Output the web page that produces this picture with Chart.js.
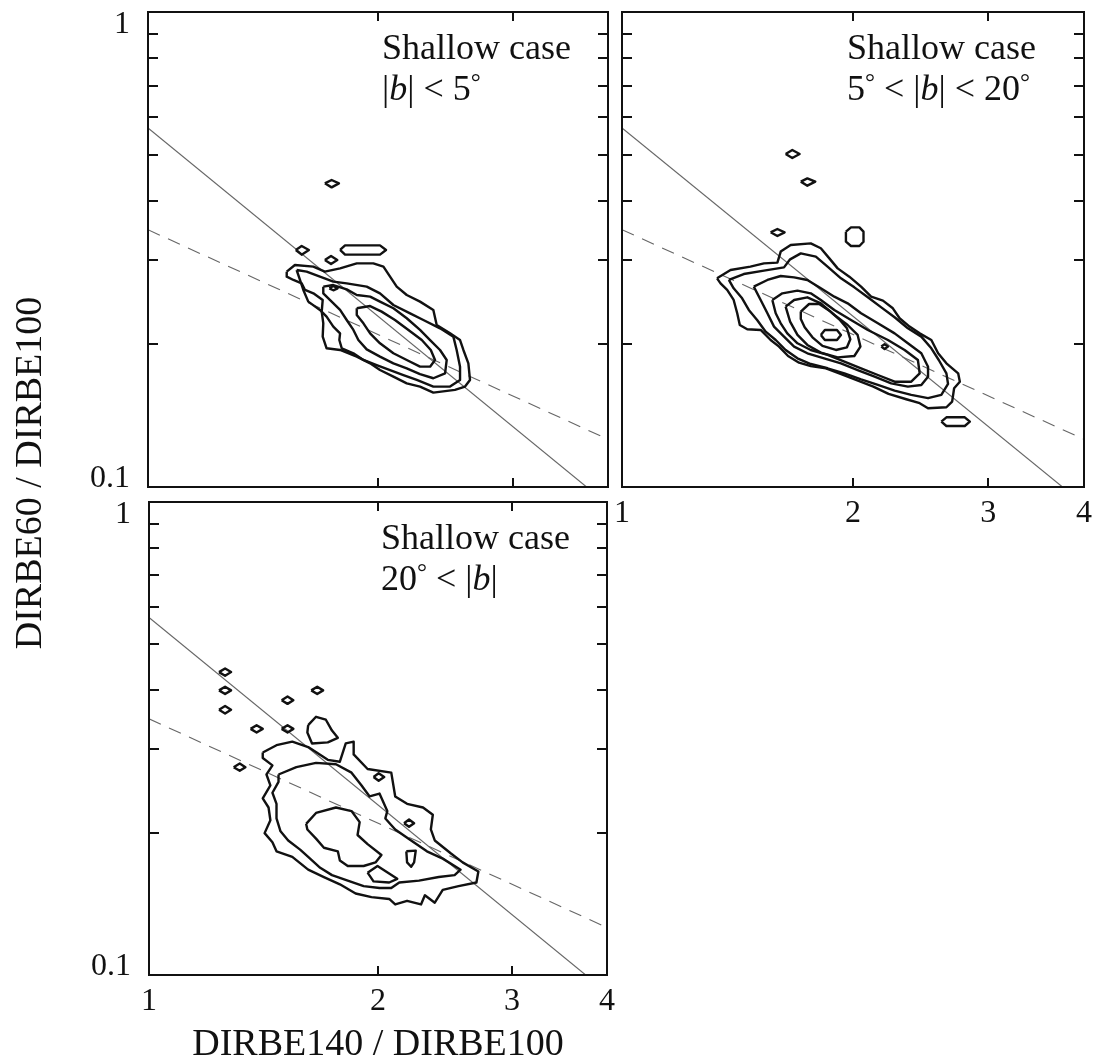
<!DOCTYPE html>
<html>
<head>
<meta charset="utf-8">
<script src="https://cdn.jsdelivr.net/npm/chart.js@4.4.1/dist/chart.umd.min.js"></script>
<style>
  html, body { margin: 0; padding: 0; background: #fff; }
  #wrap { position: relative; width: 1102px; height: 1064px; }
  #wrap canvas { position: absolute; left: 0; top: 0; }
</style>
</head>
<body>
<div id="wrap">
  <canvas id="c1" width="1102" height="1064"></canvas>
  <canvas id="c2" width="1102" height="1064"></canvas>
  <canvas id="c3" width="1102" height="1064"></canvas>
</div>
<script>
// axes
const xRange = [1, 4];
const yRange = [0.1, 1];
const xTickLabels = ['1', '2', '3', '4'];
const xTickValues = [1, 2, 3, 4];
const xMinorTicks = [2, 3];
const yMinorTicks = [0.2, 0.3, 0.4, 0.5, 0.6, 0.7, 0.8, 0.9];
const yTickLabels = ['1', '0.1'];
const yTickValues = [1, 0.1];

// fitted relations, same in every panel
const fitSolid = [[1, 0.57], [3.75, 0.1]];
const fitDashed = [[1, 0.348], [4, 0.126]];

// panel 1: |b| < 5
const p1Contour1 = [[1.519,.2840],[1.557,.2933],[1.646,.2910],[1.704,.2840],[1.784,.2886],[1.876,.2957],[1.972,.2957],[2.033,.2910],[2.074,.2772],[2.116,.2641],[2.181,.2536],[2.270,.2456],[2.363,.2359],[2.387,.2193],[2.485,.2106],[2.561,.2039],[2.587,.1943],[2.626,.1821],[2.639,.1680],[2.600,.1627],[2.522,.1601],[2.363,.1580],[2.270,.1627],[2.181,.1653],[2.095,.1707],[2.012,.1763],[1.953,.1821],[1.876,.1881],[1.784,.1943],[1.713,.1959],[1.693,.2073],[1.696,.2211],[1.688,.2340],[1.693,.2476],[1.646,.2557],[1.605,.2599],[1.589,.2684],[1.550,.2728],[1.519,.2772]];
const p1Contour2 = [[1.565,.2863],[1.613,.2840],[1.679,.2772],[1.748,.2706],[1.820,.2684],[1.933,.2641],[2.012,.2557],[2.095,.2416],[2.203,.2321],[2.293,.2247],[2.411,.2158],[2.510,.2073],[2.535,.1943],[2.561,.1792],[2.561,.1680],[2.485,.1627],[2.363,.1627],[2.248,.1680],[2.159,.1721],[2.074,.1763],[1.992,.1806],[1.914,.1851],[1.857,.1912],[1.793,.1959],[1.780,.2039],[1.784,.2106],[1.748,.2176],[1.713,.2284],[1.679,.2359],[1.621,.2456],[1.597,.2599],[1.581,.2728]];
const p1Contour3 = [[1.696,.2641],[1.748,.2662],[1.820,.2607],[1.876,.2536],[1.953,.2516],[2.012,.2456],[2.095,.2378],[2.181,.2266],[2.270,.2141],[2.340,.2039],[2.411,.1943],[2.460,.1851],[2.448,.1735],[2.363,.1694],[2.270,.1729],[2.181,.1778],[2.095,.1821],[2.012,.1881],[1.933,.1949],[1.885,.2039],[1.857,.2141],[1.820,.2247],[1.784,.2359],[1.730,.2476],[1.696,.2557]];
const p1Contour4 = [[1.876,.2378],[1.953,.2404],[2.022,.2340],[2.105,.2247],[2.192,.2141],[2.282,.2039],[2.345,.1943],[2.375,.1851],[2.340,.1792],[2.270,.1792],[2.181,.1851],[2.095,.1912],[2.012,.2007],[1.953,.2106],[1.914,.2211],[1.876,.2303]];
const p1Islands = [
  [[1.704,.4358],[1.739,.4429],[1.778,.4358],[1.739,.4274]],
  [[1.561,.3155],[1.589,.3216],[1.624,.3155],[1.589,.3084]],
  [[1.704,.3005],[1.736,.3064],[1.769,.3005],[1.736,.2948]],
  [[1.784,.3155],[1.811,.3226],[2.012,.3226],[2.049,.3155],[2.012,.3084],[1.811,.3084]],
  [[1.727,.2620],[1.748,.2649],[1.771,.2620],[1.748,.2595]]
];

// panel 2: 5 < |b| < 20
const p2Contour1 = [[1.330,.2750],[1.385,.2863],[1.470,.2910],[1.531,.2957],[1.594,.2967],[1.610,.3130],[1.659,.3232],[1.762,.3258],[1.816,.3181],[1.863,.3029],[1.910,.2886],[1.978,.2772],[2.049,.2641],[2.112,.2516],[2.188,.2468],[2.254,.2378],[2.300,.2266],[2.370,.2176],[2.443,.2106],[2.530,.2039],[2.582,.1912],[2.647,.1821],[2.742,.1735],[2.756,.1666],[2.709,.1614],[2.693,.1513],[2.647,.1472],[2.505,.1465],[2.443,.1501],[2.347,.1530],[2.225,.1570],[2.126,.1627],[2.018,.1680],[1.919,.1735],[1.844,.1778],[1.762,.1797],[1.701,.1827],[1.646,.1887],[1.602,.1975],[1.562,.2039],[1.516,.2141],[1.456,.2148],[1.424,.2193],[1.413,.2321],[1.398,.2476],[1.371,.2599],[1.344,.2684]];
const p2Contour2 = [[1.378,.2728],[1.441,.2808],[1.531,.2854],[1.626,.2900],[1.656,.3015],[1.710,.3104],[1.789,.3054],[1.853,.2910],[1.929,.2750],[2.008,.2632],[2.091,.2508],[2.177,.2389],[2.266,.2277],[2.358,.2158],[2.455,.2073],[2.530,.1959],[2.587,.1851],[2.647,.1735],[2.660,.1648],[2.607,.1563],[2.505,.1538],[2.382,.1563],[2.266,.1596],[2.155,.1640],[2.049,.1685],[1.949,.1735],[1.853,.1778],[1.762,.1815],[1.693,.1866],[1.634,.1943],[1.586,.2039],[1.539,.2123],[1.500,.2247],[1.463,.2359],[1.434,.2496],[1.398,.2620]];
const p2Contour3 = [[1.485,.2641],[1.547,.2728],[1.610,.2781],[1.676,.2763],[1.744,.2728],[1.816,.2620],[1.891,.2516],[1.968,.2436],[2.049,.2321],[2.155,.2211],[2.266,.2106],[2.358,.2007],[2.455,.1912],[2.505,.1792],[2.505,.1707],[2.455,.1640],[2.358,.1627],[2.243,.1653],[2.134,.1707],[2.028,.1763],[1.929,.1821],[1.834,.1866],[1.744,.1912],[1.676,.1975],[1.626,.2073],[1.578,.2176],[1.547,.2321],[1.516,.2476]];
const p2Contour4 = [[1.570,.2476],[1.618,.2557],[1.693,.2591],[1.762,.2557],[1.816,.2476],[1.891,.2359],[1.988,.2247],[2.091,.2141],[2.221,.2039],[2.335,.1943],[2.430,.1851],[2.443,.1735],[2.382,.1666],[2.266,.1666],[2.155,.1721],[2.049,.1778],[1.949,.1836],[1.853,.1897],[1.762,.1943],[1.693,.2007],[1.642,.2106],[1.610,.2211],[1.586,.2321]];
const p2Contour5 = [[1.634,.2397],[1.676,.2476],[1.744,.2508],[1.816,.2436],[1.891,.2303],[1.968,.2193],[2.028,.2090],[2.045,.1975],[2.008,.1887],[1.910,.1875],[1.816,.1918],[1.744,.1991],[1.693,.2090],[1.656,.2229]];
const p2Contour6 = [[1.710,.2340],[1.753,.2428],[1.807,.2428],[1.863,.2351],[1.919,.2255],[1.964,.2158],[1.984,.2046],[1.964,.1968],[1.900,.1943],[1.825,.1982],[1.771,.2066],[1.730,.2169],[1.710,.2258]];
const p2Islands = [
  [[1.816,.2090],[1.838,.2141],[1.906,.2141],[1.929,.2090],[1.906,.2039],[1.838,.2039]],
  [[2.177,.1975],[2.199,.1997],[2.221,.1975],[2.199,.1953]],
  [[2.607,.1373],[2.647,.1402],[2.797,.1402],[2.840,.1373],[2.797,.1344],[2.647,.1344]],
  [[1.958,.3448],[1.988,.3521],[2.039,.3521],[2.064,.3448],[2.064,.3284],[2.039,.3216],[1.988,.3216],[1.958,.3284]],
  [[1.562,.3437],[1.594,.3493],[1.629,.3437],[1.594,.3376]],
  [[1.634,.5025],[1.667,.5123],[1.704,.5025],[1.667,.4928]],
  [[1.710,.4394],[1.744,.4465],[1.786,.4394],[1.744,.4309]]
];

// panel 3: 20 < |b|
const p3Contour1 = [[1.411,.2954],[1.471,.3061],[1.543,.3114],[1.619,.3033],[1.718,.2850],[1.782,.2824],[1.814,.3087],[1.858,.3114],[1.858,.2927],[1.938,.2726],[2.082,.2678],[2.107,.2385],[2.184,.2301],[2.292,.2260],[2.361,.2182],[2.347,.2031],[2.375,.1925],[2.492,.1809],[2.584,.1730],[2.710,.1655],[2.694,.1569],[2.552,.1541],[2.433,.1514],[2.375,.1422],[2.305,.1474],[2.278,.1410],[2.184,.1435],[2.107,.1410],[2.069,.1448],[1.961,.1461],[1.869,.1487],[1.782,.1555],[1.698,.1611],[1.619,.1670],[1.543,.1777],[1.471,.1826],[1.453,.1908],[1.419,.1995],[1.444,.2124],[1.436,.2260],[1.411,.2363],[1.444,.2516],[1.427,.2654],[1.453,.2774],[1.411,.2875]];
const p3Contour2 = [[1.480,.2654],[1.562,.2750],[1.658,.2809],[1.761,.2789],[1.846,.2678],[1.903,.2516],[1.950,.2385],[2.009,.2419],[2.057,.2221],[2.045,.2143],[2.107,.2031],[2.211,.1925],[2.319,.1826],[2.433,.1762],[2.568,.1670],[2.522,.1626],[2.404,.1611],[2.264,.1583],[2.133,.1569],[2.082,.1527],[2.009,.1527],[1.915,.1541],[1.825,.1583],[1.740,.1626],[1.679,.1685],[1.619,.1777],[1.580,.1841],[1.524,.1925],[1.489,.2013],[1.471,.2143],[1.471,.2301],[1.453,.2428],[1.480,.2561]];
const p3Contour3 = [[1.609,.2087],[1.658,.2201],[1.761,.2260],[1.846,.2221],[1.892,.2105],[1.880,.1977],[1.938,.1891],[2.021,.1793],[1.985,.1730],[1.915,.1700],[1.825,.1700],[1.782,.1746],[1.771,.1826],[1.698,.1858],[1.658,.1942],[1.615,.2031]];
const p3Islands = [
  [[1.938,.1646],[1.997,.1700],[2.120,.1597],[2.069,.1569],[1.973,.1577]],
  [[2.179,.1826],[2.242,.1832],[2.231,.1730],[2.211,.1694],[2.184,.1730]],
  [[1.973,.2622],[2.004,.2669],[2.038,.2622],[2.004,.2575]],
  [[2.164,.2094],[2.197,.2132],[2.231,.2094],[2.197,.2057]],
  [[1.619,.3374],[1.658,.3515],[1.708,.3465],[1.740,.3287],[1.771,.3172],[1.718,.3103],[1.638,.3087],[1.615,.3256]],
  [[1.236,.4369],[1.259,.4447],[1.282,.4369],[1.259,.4292]],
  [[1.236,.3997],[1.259,.4069],[1.282,.3997],[1.259,.3927]],
  [[1.236,.3638],[1.259,.3703],[1.282,.3638],[1.259,.3572]],
  [[1.360,.3314],[1.385,.3374],[1.411,.3314],[1.385,.3256]],
  [[1.494,.3810],[1.521,.3879],[1.548,.3810],[1.521,.3743]],
  [[1.494,.3314],[1.521,.3374],[1.548,.3314],[1.521,.3256]],
  [[1.634,.3997],[1.664,.4069],[1.694,.3997],[1.664,.3927]],
  [[1.292,.2750],[1.316,.2799],[1.339,.2750],[1.316,.2702]]
];

const caseTitle = 'Shallow case';
const p1Label = [{ t: '|' }, { t: 'b', it: true }, { t: '| < 5' }, { t: '°', sup: true }];
const p2Label = [{ t: '5' }, { t: '°', sup: true }, { t: ' < |' }, { t: 'b', it: true }, { t: '| < 20' }, { t: '°', sup: true }];
const p3Label = [{ t: '20' }, { t: '°', sup: true }, { t: ' < |' }, { t: 'b', it: true }, { t: '|' }];
const xTitle = 'DIRBE140 / DIRBE100';
const yTitle = 'DIRBE60 / DIRBE100';

const FONT = '"Liberation Serif", "Times New Roman", serif';
const INK = '#111';

const toPts = arr => arr.map(p => ({ x: p[0], y: p[1] }));
const closed = poly => toPts(poly.concat([poly[0]]));

function contourSets(polys) {
  return polys.map(poly => ({
    data: closed(poly),
    showLine: true,
    borderColor: INK,
    borderWidth: 2.4,
    borderJoinStyle: 'round',
    pointRadius: 0,
    fill: false,
    order: 0
  }));
}

function fitSets() {
  return [
    { data: toPts(fitSolid), showLine: true, borderColor: '#666', borderWidth: 1.1, pointRadius: 0, order: 1 },
    { data: toPts(fitDashed), showLine: true, borderColor: '#666', borderWidth: 1.1, borderDash: [13, 9], pointRadius: 0, order: 1 }
  ];
}

function drawRuns(ctx, runs, x, y, size) {
  runs.forEach(r => {
    const s = r.sup ? Math.round(size * 0.7) : size;
    ctx.font = (r.it ? 'italic ' : '') + s + 'px ' + FONT;
    ctx.fillText(r.t, x, r.sup ? y - size * 0.28 : y);
    x += ctx.measureText(r.t).width;
  });
}

const framePlugin = {
  id: 'frame',
  afterDraw(chart, args, opts) {
    const { ctx, chartArea: a, scales: { x, y } } = chart;
    ctx.save();
    ctx.strokeStyle = INK;
    ctx.lineWidth = 2;
    ctx.strokeRect(a.left, a.top, a.right - a.left, a.bottom - a.top);

    ctx.beginPath();
    yMinorTicks.forEach(v => {
      const py = Math.round(y.getPixelForValue(v));
      ctx.moveTo(a.left, py); ctx.lineTo(a.left + 10, py);
      ctx.moveTo(a.right, py); ctx.lineTo(a.right - 10, py);
    });
    xMinorTicks.forEach(v => {
      const px = Math.round(x.getPixelForValue(v));
      ctx.moveTo(px, a.bottom); ctx.lineTo(px, a.bottom - 9);
      ctx.moveTo(px, a.top); ctx.lineTo(px, a.top + 9);
    });
    ctx.stroke();

    ctx.fillStyle = INK;
    ctx.font = '32px ' + FONT;
    if (opts.yLabels) {
      ctx.textAlign = 'right';
      ctx.textBaseline = 'alphabetic';
      ctx.fillText(yTickLabels[0], a.left - 18, y.getPixelForValue(yTickValues[0]) + 21);
      ctx.fillText(yTickLabels[1], a.left - 18, y.getPixelForValue(yTickValues[1]));
    }
    if (opts.xLabels) {
      ctx.textAlign = 'center';
      ctx.textBaseline = 'alphabetic';
      xTickValues.forEach((v, i) => ctx.fillText(xTickLabels[i], x.getPixelForValue(v), a.bottom + 35));
    }

    ctx.textAlign = 'left';
    ctx.font = '36px ' + FONT;
    ctx.fillText(caseTitle, a.left + opts.textX, a.top + 47);
    drawRuns(ctx, opts.label, a.left + opts.textX, a.top + 88, 36);

    if (opts.axisTitles) {
      ctx.font = '38px ' + FONT;
      ctx.textAlign = 'center';
      ctx.fillText(xTitle, (a.left + a.right) / 2, a.bottom + 80);
      ctx.save();
      ctx.translate(41, 473);
      ctx.rotate(-Math.PI / 2);
      ctx.fillText(yTitle, 0, 0);
      ctx.restore();
    }
    ctx.restore();
  }
};

const panels = [
  { id: 'c1', pad: { left: 148, top: 12, right: 494, bottom: 577 },
    polys: [p1Contour1, p1Contour2, p1Contour3, p1Contour4].concat(p1Islands),
    frame: { yLabels: true, xLabels: false, textX: 234, label: p1Label } },
  { id: 'c2', pad: { left: 622, top: 12, right: 18, bottom: 577 },
    polys: [p2Contour1, p2Contour2, p2Contour3, p2Contour4, p2Contour5, p2Contour6].concat(p2Islands),
    frame: { yLabels: false, xLabels: true, textX: 225, label: p2Label } },
  { id: 'c3', pad: { left: 149, top: 502, right: 495, bottom: 89 },
    polys: [p3Contour1, p3Contour2, p3Contour3].concat(p3Islands),
    frame: { yLabels: true, xLabels: true, textX: 232, label: p3Label, axisTitles: true } }
];

panels.forEach(p => {
  new Chart(document.getElementById(p.id), {
    type: 'scatter',
    data: { datasets: fitSets().concat(contourSets(p.polys)) },
    options: {
      responsive: false,
      animation: false,
      devicePixelRatio: 1,
      layout: { padding: p.pad },
      plugins: { legend: { display: false }, tooltip: { enabled: false }, frame: p.frame },
      scales: {
        x: { type: 'logarithmic', min: xRange[0], max: xRange[1], display: false },
        y: { type: 'logarithmic', min: yRange[0], max: yRange[1], display: false }
      }
    },
    plugins: [framePlugin]
  });
});
</script>
</body>
</html>
